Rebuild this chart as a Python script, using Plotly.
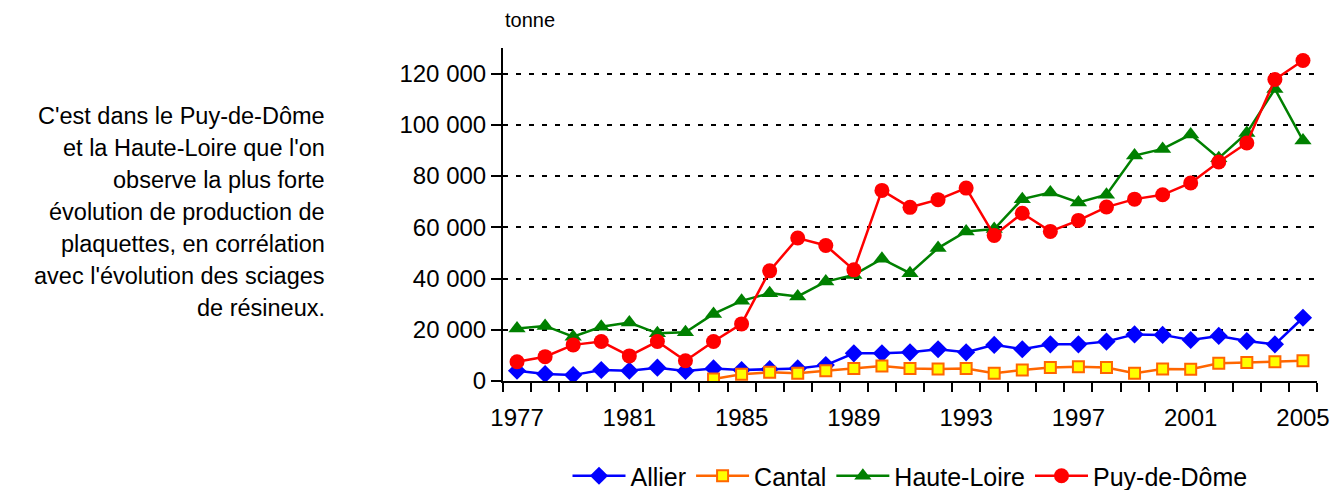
import plotly.graph_objects as go

years = list(range(1977, 2006))

allier = [4000, 2700, 2300, 4300, 4000, 5200, 3900, 4900, 4300, 4600,
          4900, 6200, 10800, 10800, 11200, 12400, 11200, 14100, 12400, 14300,
          14300, 15400, 18200, 18000, 16000, 17600, 15600, 14300, 24700]

cantal = [None, None, None, None, None, None, None, 800, 2600, 3400,
          3000, 4000, 4900, 5900, 4900, 4700, 4900, 3000, 4300, 5300,
          5600, 5300, 3000, 4700, 4600, 6900, 7200, 7500, 7900]

haute_loire = [20500, 21500, 17300, 21200, 22800, 18600, 19000, 26200, 31300, 34300,
               33000, 38800, 41400, 47700, 42100, 51900, 58400, 59300, 71000, 73600,
               69700, 72700, 88000, 90600, 96200, 87000, 96800, 114000, 93900]

puy_de_dome = [7500, 9500, 14100, 15400, 9800, 15400, 7900, 15400, 22300, 43000,
               55800, 52900, 43400, 74400, 67800, 70800, 75300, 56800, 65500, 58400,
               62700, 67900, 71000, 72700, 77300, 85500, 92900, 117700, 125100]

x_labels = list(range(1977, 2006, 4))
y_ticks = [0, 20000, 40000, 60000, 80000, 100000, 120000]

side_text = [
    "C'est dans le Puy-de-Dôme",
    "et la Haute-Loire que l'on",
    "observe la plus forte",
    "évolution de production de",
    "plaquettes, en corrélation",
    "avec l'évolution des sciages",
    "de résineux.",
]

FONT = "Liberation Sans, Arial, sans-serif"

fig = go.Figure()
fig.add_trace(go.Scatter(
    x=years, y=allier, name="Allier", mode="lines+markers",
    line=dict(color="#0000FF", width=2.5),
    marker=dict(symbol="diamond", size=14, color="#0000FF"),
))
fig.add_trace(go.Scatter(
    x=years, y=cantal, name="Cantal", mode="lines+markers",
    line=dict(color="#FF6600", width=2.5),
    marker=dict(symbol="square", size=11, color="#FFFF00",
                line=dict(color="#FF6600", width=2)),
))
fig.add_trace(go.Scatter(
    x=years, y=haute_loire, name="Haute-Loire", mode="lines+markers",
    line=dict(color="#008000", width=2.5),
    marker=dict(symbol="triangle-up", size=15, color="#008000"),
))
fig.add_trace(go.Scatter(
    x=years, y=puy_de_dome, name="Puy-de-Dôme", mode="lines+markers",
    line=dict(color="#FF0000", width=2.5),
    marker=dict(symbol="circle", size=15, color="#FF0000"),
))

boundaries = [y - 0.5 for y in range(1977, 2007)]

fig.update_xaxes(
    range=[1976.5, 2005.5],
    tickmode="array", tickvals=x_labels, ticks="outside", ticklen=0,
    ticklabelstandoff=14,
    showgrid=False, zeroline=False,
    showline=True, linecolor="black", linewidth=2,
    tickfont=dict(family=FONT, size=24, color="black"),
    minor=dict(tickmode="array", tickvals=boundaries, ticks="outside",
               ticklen=9, tickwidth=2, tickcolor="black", showgrid=False),
)
fig.update_yaxes(
    range=[0, 130000],
    tickmode="array", tickvals=y_ticks, tickformat=",d",
    ticks="outside", ticklen=10, tickwidth=2, tickcolor="black",
    showgrid=True, gridcolor="black", gridwidth=2, griddash="5px,8px",
    zeroline=False,
    showline=True, linecolor="black", linewidth=2,
    tickfont=dict(family=FONT, size=24, color="black"),
)

annotations = [dict(
    text="tonne", x=0, y=(381 - 20) / 333, xref="paper", yref="paper",
    xanchor="left", yanchor="middle", showarrow=False,
    font=dict(family=FONT, size=20, color="black"),
)]
for i, line in enumerate(side_text):
    annotations.append(dict(
        text=line, x=(327 - 503) / 814, y=(381 - (116 + 32 * i)) / 333,
        xref="paper", yref="paper", xanchor="right", yanchor="middle",
        showarrow=False, font=dict(family=FONT, size=23.5, color="black"),
    ))

fig.update_layout(
    width=1333, height=490,
    margin=dict(l=503, r=16, t=48, b=109, autoexpand=False),
    paper_bgcolor="white", plot_bgcolor="white",
    separators=", ",
    showlegend=True,
    legend=dict(orientation="h", x=(910 - 503) / 814, xanchor="center",
                y=(381 - 476) / 333, yanchor="middle",
                font=dict(family=FONT, size=25, color="black"),
                itemwidth=53, tracegroupgap=0),
    annotations=annotations,
)

fig.write_html("out.html")
